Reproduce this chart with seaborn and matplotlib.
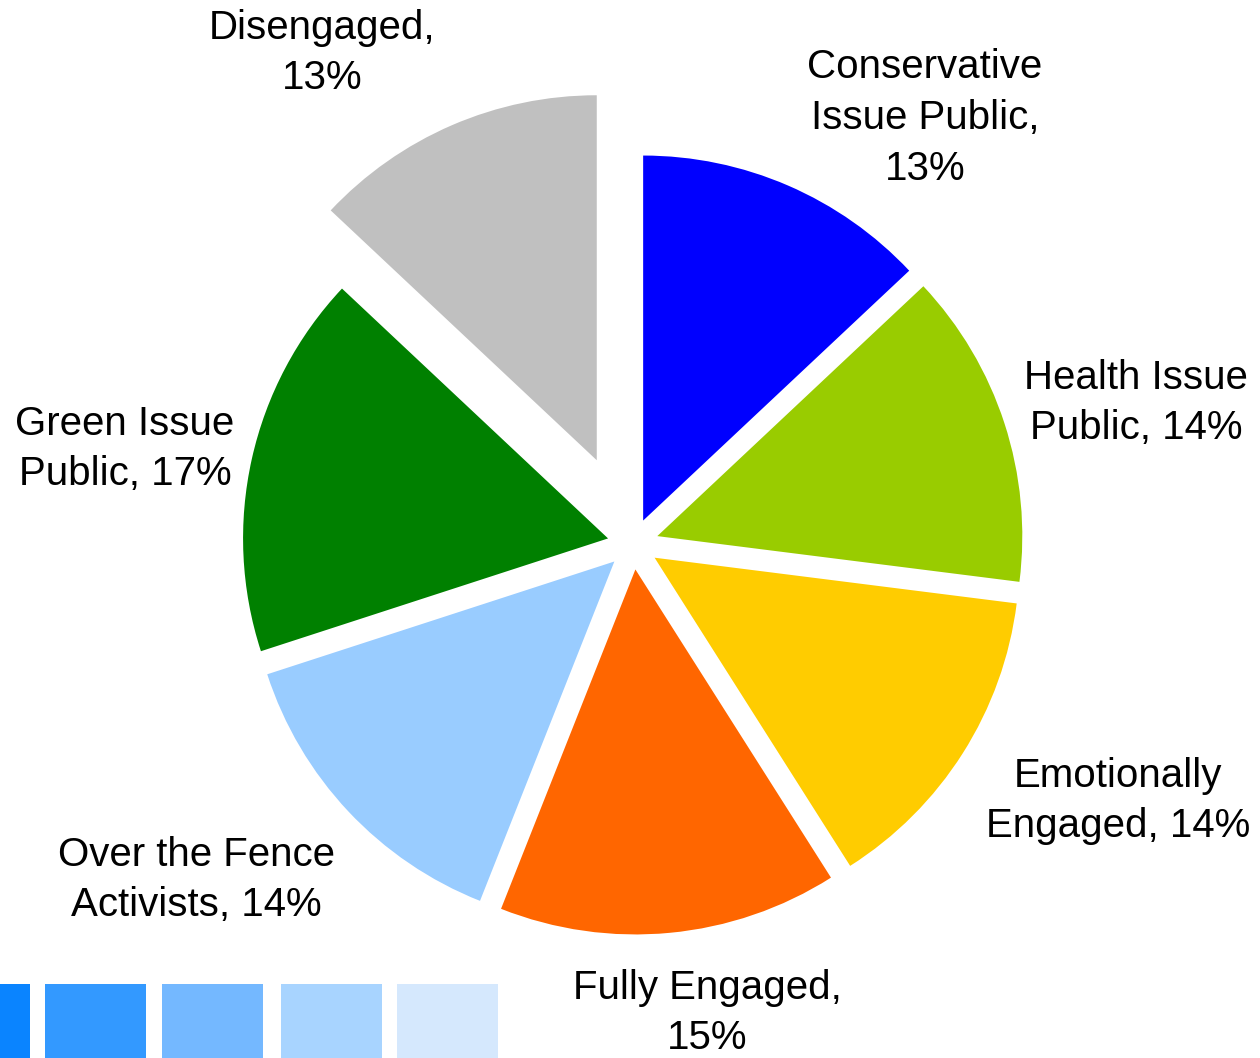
import numpy as np
import matplotlib
matplotlib.use("Agg")
import matplotlib.pyplot as plt
import seaborn as sns
from matplotlib.patches import Rectangle

# Data
segments = ["Conservative\nIssue Public", "Health Issue\nPublic", "Emotionally\nEngaged",
            "Fully Engaged", "Over the Fence\nActivists", "Green Issue\nPublic", "Disengaged"]
shares = [13, 14, 14, 15, 14, 17, 13]
label_sep = ["\n", " ", " ", "\n", " ", " ", "\n"]
colors = ["#0000FF", "#99CC00", "#FFCC00", "#FF6600", "#99CCFF", "#008000", "#C0C0C0"]
explode = [0.07, 0.07, 0.07, 0.07, 0.07, 0.07, 0.25]

# label positions (in pie radius units)
label_pos = [(0.80, 1.167), (1.378, 0.386), (1.329, -0.704), (0.203, -1.285),
             (-1.197, -0.921), (-1.392, 0.26), (-0.852, 1.345)]

# decorative swatches along the bottom edge
swatch_colors = ["#0A84FF", "#3399FF", "#74B8FF", "#A8D4FF", "#D5E8FD"]
swatch_x = [0, 45, 162, 281, 397]
swatch_w = [30, 101, 101, 101, 101]

sns.set_theme(style="white")
plt.rcParams['font.family'] = ['Liberation Sans', 'DejaVu Sans']

fig = plt.figure(figsize=(12.6, 10.58), dpi=100)
ax = fig.add_axes([0, 0, 1, 1])

ax.pie(shares, colors=colors, explode=explode, startangle=90, counterclock=False,
       radius=1.0, wedgeprops=dict(linewidth=0))

for name, v, sep, (x, y) in zip(segments, shares, label_sep, label_pos):
    ax.text(x, y, f"{name},{sep}{v}%", ha="center", va="center",
            fontsize=29, color="black", linespacing=1.42)

ax.set_xlim(-633 / 365, 627 / 365)
ax.set_ylim(-514 / 365, 544 / 365)
ax.set_aspect("equal")
ax.axis("off")

for c, x0, w in zip(swatch_colors, swatch_x, swatch_w):
    fig.patches.append(Rectangle((x0 / 1260, 0), w / 1260, 74 / 1058,
                                 transform=fig.transFigure, color=c, linewidth=0))

fig.savefig("out.png", dpi=100)
